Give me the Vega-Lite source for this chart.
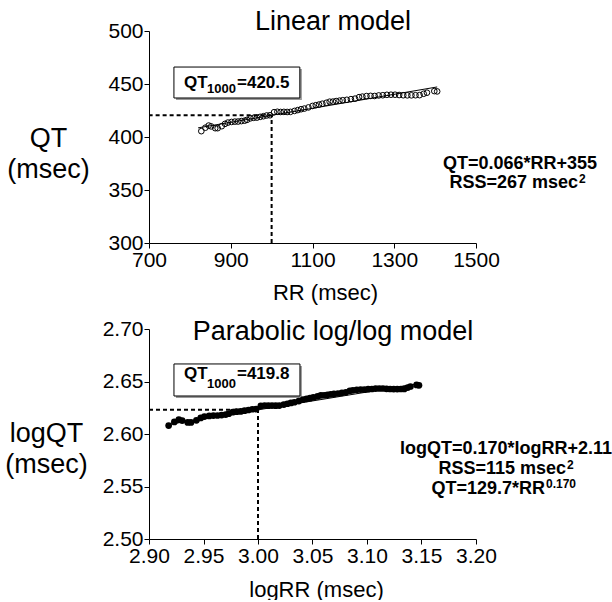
{
  "$schema": "https://vega.github.io/schema/vega-lite/v6.json",
  "padding": {"left": 4, "top": 7, "right": 0, "bottom": 0},
  "background": "white",
  "config": {
    "view": {"stroke": null},
    "font": "Liberation Sans",
    "axis": {
      "labelFont": "Liberation Sans", "labelFontSize": 21, "labelColor": "#000",
      "titleFont": "Liberation Sans", "titleFontSize": 22, "titleFontWeight": "normal", "titleColor": "#000",
      "domainColor": "#000", "domainWidth": 1, "tickColor": "#000", "tickSize": 5, "tickWidth": 1,
      "grid": false, "labelFlush": false, "labelOverlap": false, "labelPadding": 1
    }
  },
  "datasets": {
    "pts": [
      {"rr": 828, "qt": 405.5, "lrr": 2.91803, "lqt": 2.60799},
      {"rr": 838, "qt": 408.8, "lrr": 2.92325, "lqt": 2.61151},
      {"rr": 846, "qt": 410.8, "lrr": 2.92737, "lqt": 2.61363},
      {"rr": 852, "qt": 410.0, "lrr": 2.93044, "lqt": 2.61278},
      {"rr": 862, "qt": 408.3, "lrr": 2.93551, "lqt": 2.61098},
      {"rr": 868, "qt": 408.3, "lrr": 2.93852, "lqt": 2.61098},
      {"rr": 878, "qt": 410.2, "lrr": 2.94350, "lqt": 2.61300},
      {"rr": 886, "qt": 412.4, "lrr": 2.94744, "lqt": 2.61532},
      {"rr": 893, "qt": 413.6, "lrr": 2.95085, "lqt": 2.61658},
      {"rr": 902, "qt": 414.2, "lrr": 2.95521, "lqt": 2.61721},
      {"rr": 910, "qt": 414.5, "lrr": 2.95904, "lqt": 2.61752},
      {"rr": 918, "qt": 414.6, "lrr": 2.96284, "lqt": 2.61763},
      {"rr": 926, "qt": 415.0, "lrr": 2.96661, "lqt": 2.61805},
      {"rr": 934, "qt": 415.4, "lrr": 2.97035, "lqt": 2.61847},
      {"rr": 940, "qt": 416.2, "lrr": 2.97313, "lqt": 2.61930},
      {"rr": 948, "qt": 417.6, "lrr": 2.97681, "lqt": 2.62076},
      {"rr": 956, "qt": 418.1, "lrr": 2.98046, "lqt": 2.62128},
      {"rr": 964, "qt": 418.3, "lrr": 2.98408, "lqt": 2.62149},
      {"rr": 972, "qt": 419.0, "lrr": 2.98767, "lqt": 2.62221},
      {"rr": 980, "qt": 419.6, "lrr": 2.99123, "lqt": 2.62284},
      {"rr": 988, "qt": 420.3, "lrr": 2.99476, "lqt": 2.62356},
      {"rr": 996, "qt": 420.5, "lrr": 2.99826, "lqt": 2.62377},
      {"rr": 1006, "qt": 423.4, "lrr": 3.00260, "lqt": 2.62675},
      {"rr": 1014, "qt": 423.8, "lrr": 3.00604, "lqt": 2.62716},
      {"rr": 1022, "qt": 423.6, "lrr": 3.00945, "lqt": 2.62696},
      {"rr": 1030, "qt": 423.7, "lrr": 3.01284, "lqt": 2.62706},
      {"rr": 1038, "qt": 423.6, "lrr": 3.01620, "lqt": 2.62696},
      {"rr": 1046, "qt": 423.7, "lrr": 3.01953, "lqt": 2.62706},
      {"rr": 1056, "qt": 424.6, "lrr": 3.02366, "lqt": 2.62798},
      {"rr": 1064, "qt": 425.4, "lrr": 3.02694, "lqt": 2.62880},
      {"rr": 1072, "qt": 426.2, "lrr": 3.03019, "lqt": 2.62961},
      {"rr": 1080, "qt": 426.8, "lrr": 3.03342, "lqt": 2.63023},
      {"rr": 1090, "qt": 427.9, "lrr": 3.03743, "lqt": 2.63134},
      {"rr": 1100, "qt": 429.3, "lrr": 3.04139, "lqt": 2.63276},
      {"rr": 1108, "qt": 430.0, "lrr": 3.04454, "lqt": 2.63347},
      {"rr": 1116, "qt": 430.6, "lrr": 3.04766, "lqt": 2.63407},
      {"rr": 1124, "qt": 431.4, "lrr": 3.05077, "lqt": 2.63488},
      {"rr": 1134, "qt": 432.3, "lrr": 3.05461, "lqt": 2.63579},
      {"rr": 1142, "qt": 433.3, "lrr": 3.05767, "lqt": 2.63679},
      {"rr": 1150, "qt": 433.4, "lrr": 3.06070, "lqt": 2.63689},
      {"rr": 1158, "qt": 433.9, "lrr": 3.06371, "lqt": 2.63739},
      {"rr": 1166, "qt": 434.3, "lrr": 3.06670, "lqt": 2.63779},
      {"rr": 1174, "qt": 434.7, "lrr": 3.06967, "lqt": 2.63819},
      {"rr": 1184, "qt": 435.1, "lrr": 3.07335, "lqt": 2.63859},
      {"rr": 1194, "qt": 435.7, "lrr": 3.07700, "lqt": 2.63919},
      {"rr": 1204, "qt": 436.2, "lrr": 3.08063, "lqt": 2.63969},
      {"rr": 1214, "qt": 437.6, "lrr": 3.08422, "lqt": 2.64108},
      {"rr": 1222, "qt": 438.1, "lrr": 3.08707, "lqt": 2.64157},
      {"rr": 1232, "qt": 438.6, "lrr": 3.09061, "lqt": 2.64207},
      {"rr": 1242, "qt": 438.8, "lrr": 3.09412, "lqt": 2.64227},
      {"rr": 1252, "qt": 438.7, "lrr": 3.09760, "lqt": 2.64217},
      {"rr": 1262, "qt": 439.2, "lrr": 3.10106, "lqt": 2.64266},
      {"rr": 1272, "qt": 439.4, "lrr": 3.10449, "lqt": 2.64286},
      {"rr": 1282, "qt": 439.8, "lrr": 3.10789, "lqt": 2.64326},
      {"rr": 1292, "qt": 439.9, "lrr": 3.11126, "lqt": 2.64335},
      {"rr": 1302, "qt": 439.9, "lrr": 3.11461, "lqt": 2.64335},
      {"rr": 1312, "qt": 439.6, "lrr": 3.11793, "lqt": 2.64306},
      {"rr": 1322, "qt": 439.4, "lrr": 3.12123, "lqt": 2.64286},
      {"rr": 1332, "qt": 439.3, "lrr": 3.12450, "lqt": 2.64276},
      {"rr": 1342, "qt": 439.3, "lrr": 3.12775, "lqt": 2.64276},
      {"rr": 1352, "qt": 439.4, "lrr": 3.13098, "lqt": 2.64286},
      {"rr": 1362, "qt": 439.5, "lrr": 3.13418, "lqt": 2.64296},
      {"rr": 1372, "qt": 440.8, "lrr": 3.13735, "lqt": 2.64424},
      {"rr": 1380, "qt": 441.8, "lrr": 3.13988, "lqt": 2.64523},
      {"rr": 1398, "qt": 443.3, "lrr": 3.14551, "lqt": 2.64670},
      {"rr": 1405, "qt": 443.0, "lrr": 3.14768, "lqt": 2.64640}
    ]
  },
  "spacing": 15,
  "vconcat": [
    {
      "width": 327, "height": 212,
      "encoding": {
        "x": {"field": "rr", "type": "quantitative",
              "scale": {"domain": [700, 1500], "nice": false, "zero": false},
              "axis": {"values": [700, 900, 1100, 1300, 1500], "format": "d", "title": "RR (msec)", "titleX": 176, "titleY": 49, "titleBaseline": "middle", "titleAlign": "center"}},
        "y": {"field": "qt", "type": "quantitative",
              "scale": {"domain": [300, 500], "nice": false, "zero": false},
              "axis": {"values": [300, 350, 400, 450, 500], "format": "d", "title": ["QT", "(msec)"], "titleAngle": 0, "titleX": -101, "titleY": 107, "titleAlign": "center", "titleBaseline": "middle", "titleLineHeight": 31, "titleFontSize": 27}}
      },
      "layer": [
        {
          "data": {"values": [{"rr": 1000, "qt": 420.5, "rr2": 700, "qt2": 420.5}, {"rr": 1000, "qt": 300, "rr2": 1000, "qt2": 420.5}]},
          "mark": {"type": "rule", "strokeDash": [4, 3], "strokeWidth": 2, "color": "#000"},
          "encoding": {"x2": {"field": "rr2"}, "y2": {"field": "qt2"}}
        },
        {
          "data": {"values": [{"rr": 766, "qt": 434.9, "rr2": 1074, "qt2": 464.1}]},
          "mark": {"type": "rect", "fill": "#999", "stroke": null},
          "encoding": {"x2": {"field": "rr2"}, "y2": {"field": "qt2"}}
        },
        {
          "data": {"values": [{"rr": 761, "qt": 436.8, "rr2": 1069, "qt2": 466}]},
          "mark": {"type": "rect", "fill": "white", "stroke": "#000", "strokeWidth": 1},
          "encoding": {"x2": {"field": "rr2"}, "y2": {"field": "qt2"}}
        },
        {
          "data": {"values": [{"rr": 820, "qt": 408.6}, {"rr": 1405, "qt": 447.2}]},
          "mark": {"type": "line", "color": "#000", "strokeWidth": 1},
          "encoding": {}
        },
        {
          "data": {"name": "pts"},
          "mark": {"type": "point", "shape": "circle", "filled": false, "stroke": "#000", "strokeWidth": 1, "size": 32, "opacity": 1},
          "encoding": {}
        },
        {
          "data": {"values": [{"rr": 1150, "qt": 501, "t": "Linear model"}]},
          "mark": {"type": "text", "align": "center", "baseline": "alphabetic", "fontSize": 27, "color": "#000"},
          "encoding": {"text": {"field": "t"}}
        },
        {
          "data": {"values": [{"rr": 785.6, "qt": 450.5, "t": "QT"}, {"rr": 915.3, "qt": 450.5, "t": "=420.5"}]},
          "mark": {"type": "text", "align": "left", "baseline": "middle", "fontSize": 17, "fontWeight": "bold", "color": "#000"},
          "encoding": {"text": {"field": "t"}}
        },
        {
          "data": {"values": [{"rr": 841.9, "qt": 445.3, "t": "1000"}]},
          "mark": {"type": "text", "align": "left", "baseline": "middle", "fontSize": 13, "fontWeight": "bold", "color": "#000"},
          "encoding": {"text": {"field": "t"}}
        },
        {
          "data": {"values": [{"rr": 1607.6, "qt": 374.5, "t": "QT=0.066*RR+355"}]},
          "mark": {"type": "text", "align": "center", "baseline": "middle", "fontSize": 18, "fontWeight": "bold", "color": "#000"},
          "encoding": {"text": {"field": "t"}}
        },
        {
          "data": {"values": [{"rr": 1749.5, "qt": 356.6, "t": "RSS=267 msec"}]},
          "mark": {"type": "text", "align": "right", "baseline": "middle", "fontSize": 18, "fontWeight": "bold", "color": "#000"},
          "encoding": {"text": {"field": "t"}}
        },
        {
          "data": {"values": [{"rr": 1752, "qt": 360.2, "t": "2"}]},
          "mark": {"type": "text", "align": "left", "baseline": "middle", "fontSize": 12, "fontWeight": "bold", "color": "#000"},
          "encoding": {"text": {"field": "t"}}
        }
      ]
    },
    {
      "width": 327, "height": 210,
      "encoding": {
        "x": {"field": "lrr", "type": "quantitative",
              "scale": {"domain": [2.9, 3.2], "nice": false, "zero": false},
              "axis": {"values": [2.9, 2.95, 3.0, 3.05, 3.1, 3.15, 3.2], "format": ".2f", "title": "logRR (msec)", "titleX": 167, "titleY": 50, "titleBaseline": "middle", "titleAlign": "center"}},
        "y": {"field": "lqt", "type": "quantitative",
              "scale": {"domain": [2.5, 2.7], "nice": false, "zero": false},
              "axis": {"values": [2.5, 2.55, 2.6, 2.65, 2.7], "format": ".2f", "title": ["logQT", "(msec)"], "titleAngle": 0, "titleX": -103, "titleY": 104, "titleAlign": "center", "titleBaseline": "middle", "titleLineHeight": 31, "titleFontSize": 27}}
      },
      "layer": [
        {
          "data": {"values": [{"lrr": 3.0, "lqt": 2.62304, "lrr2": 2.9, "lqt2": 2.62304}, {"lrr": 3.0, "lqt": 2.5, "lrr2": 3.0, "lqt2": 2.62304}]},
          "mark": {"type": "rule", "strokeDash": [4, 3], "strokeWidth": 2, "color": "#000"},
          "encoding": {"x2": {"field": "lrr2"}, "y2": {"field": "lqt2"}}
        },
        {
          "data": {"values": [{"lrr": 2.9247, "lqt": 2.6343, "lrr2": 3.0403, "lqt2": 2.6648}]},
          "mark": {"type": "rect", "fill": "#999", "stroke": null},
          "encoding": {"x2": {"field": "lrr2"}, "y2": {"field": "lqt2"}}
        },
        {
          "data": {"values": [{"lrr": 2.9229, "lqt": 2.6362, "lrr2": 3.0385, "lqt2": 2.6667}]},
          "mark": {"type": "rect", "fill": "white", "stroke": "#000", "strokeWidth": 1},
          "encoding": {"x2": {"field": "lrr2"}, "y2": {"field": "lqt2"}}
        },
        {
          "data": {"values": [{"lrr": 2.918, "lqt": 2.6091}, {"lrr": 3.148, "lqt": 2.6481}]},
          "mark": {"type": "line", "color": "#000", "strokeWidth": 1},
          "encoding": {}
        },
        {
          "data": {"name": "pts"},
          "mark": {"type": "circle", "color": "#000", "size": 45, "opacity": 1},
          "encoding": {}
        },
        {
          "data": {"values": [{"lrr": 3.0688, "lqt": 2.6895, "t": "Parabolic log/log model"}]},
          "mark": {"type": "text", "align": "center", "baseline": "alphabetic", "fontSize": 27, "color": "#000"},
          "encoding": {"text": {"field": "t"}}
        },
        {
          "data": {"values": [{"lrr": 2.9321, "lqt": 2.6571, "t": "QT"}, {"lrr": 2.9807, "lqt": 2.6571, "t": "=419.8"}]},
          "mark": {"type": "text", "align": "left", "baseline": "middle", "fontSize": 17, "fontWeight": "bold", "color": "#000"},
          "encoding": {"text": {"field": "t"}}
        },
        {
          "data": {"values": [{"lrr": 2.9532, "lqt": 2.6476, "t": "1000"}]},
          "mark": {"type": "text", "align": "left", "baseline": "middle", "fontSize": 13, "fontWeight": "bold", "color": "#000"},
          "encoding": {"text": {"field": "t"}}
        },
        {
          "data": {"values": [{"lrr": 3.2275, "lqt": 2.5857, "t": "logQT=0.170*logRR+2.11"}]},
          "mark": {"type": "text", "align": "center", "baseline": "middle", "fontSize": 18, "fontWeight": "bold", "color": "#000"},
          "encoding": {"text": {"field": "t"}}
        },
        {
          "data": {"values": [{"lrr": 3.2826, "lqt": 2.5667, "t": "RSS=115 msec"}, {"lrr": 3.2633, "lqt": 2.5476, "t": "QT=129.7*RR"}]},
          "mark": {"type": "text", "align": "right", "baseline": "middle", "fontSize": 18, "fontWeight": "bold", "color": "#000"},
          "encoding": {"text": {"field": "t"}}
        },
        {
          "data": {"values": [{"lrr": 3.2835, "lqt": 2.5701, "t": "2"}, {"lrr": 3.2642, "lqt": 2.5524, "t": "0.170"}]},
          "mark": {"type": "text", "align": "left", "baseline": "middle", "fontSize": 12, "fontWeight": "bold", "color": "#000"},
          "encoding": {"text": {"field": "t"}}
        }
      ]
    }
  ]
}
